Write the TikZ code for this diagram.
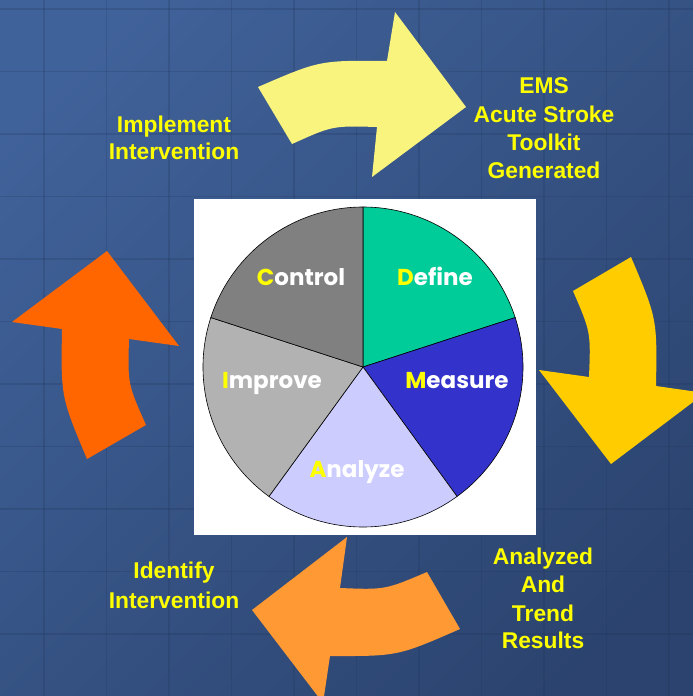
\documentclass[tikz,border=0pt]{standalone}
\usepackage{fontspec}
\setmainfont{Liberation Sans}
\newfontfamily\piefont{Poppins}
\definecolor{bgA}{HTML}{40629A}
\definecolor{bgM}{HTML}{375582}
\definecolor{bgB}{HTML}{2B436E}
\definecolor{gridc}{HTML}{1F3357}
\definecolor{ylw}{HTML}{FFFF00}
\definecolor{cDefine}{HTML}{00CC99}
\definecolor{cMeasure}{HTML}{3333CC}
\definecolor{cAnalyze}{HTML}{CCCCFF}
\definecolor{cImprove}{HTML}{B2B2B2}
\definecolor{cControl}{HTML}{808080}
\definecolor{arYellow}{HTML}{F9F47D}
\definecolor{arGold}{HTML}{FFCC00}
\definecolor{arRed}{HTML}{FF6600}
\definecolor{arOrange}{HTML}{FF9933}
\tikzset{
  gridline/.style={draw=gridc, line width=1.8pt, opacity=0.22},
  slice/.style={draw=black, line width=0.6pt},
  pielab/.style={font=\piefont\bfseries\fontsize{23}{28}\selectfont, text=white, inner sep=0pt, anchor=base},
  outlab/.style={font=\bfseries\fontsize{22.8}{28}\selectfont, text=ylw, inner sep=0pt, anchor=base},
}
\begin{document}
\begin{tikzpicture}[x=1pt,y=-1pt]
\useasboundingbox (0,0) rectangle (693,696);
\begin{scope}
\clip (0,0) rectangle (693,696);
% background
\shade[shading=axis, top color=bgA, middle color=bgM, bottom color=bgB, shading angle=45] (-50,-50) rectangle (743,746);
\foreach \gx in {44,106.5,169,231.5,294,356.5,419,481.5,544,606.5,669}
  \draw[gridline] (\gx,0) -- (\gx,696);
\foreach \gy in {9,71.5,134,196.5,259,321.5,384,446.5,509,571.5,634}
  \draw[gridline] (0,\gy) -- (693,\gy);

% white panel
\fill[white] (194,199) rectangle (536,535);

% pie
\begin{scope}[shift={(363,367)}, y=1pt]
  \filldraw[slice, fill=cDefine]  (0,0) -- (18:160) arc[start angle=18, end angle=90, radius=160] -- cycle;
  \filldraw[slice, fill=cMeasure] (0,0) -- (-54:160) arc[start angle=-54, end angle=18, radius=160] -- cycle;
  \filldraw[slice, fill=cAnalyze] (0,0) -- (-126:160) arc[start angle=-126, end angle=-54, radius=160] -- cycle;
  \filldraw[slice, fill=cImprove] (0,0) -- (162:160) arc[start angle=162, end angle=234, radius=160] -- cycle;
  \filldraw[slice, fill=cControl] (0,0) -- (90:160) arc[start angle=90, end angle=162, radius=160] -- cycle;
\end{scope}

\node[pielab] (lcontrol) at (301,285) {\textcolor{ylw}{C}ontrol};
\node[pielab] (ldefine)  at (435,285) {\textcolor{ylw}{D}efine};
\node[pielab] (limprove) at (272,388) {\textcolor{ylw}{I}mprove};
\node[pielab] (lmeasure) at (457,388) {\textcolor{ylw}{M}easure};
\node[pielab] (lanalyze) at (357,477) {\textcolor{ylw}{A}nalyze};

% arrows
\fill[arYellow] (258,87) .. controls (319.7,60.3) .. (387,61) -- (395,12) -- (466,107) -- (372,177) -- (377,127) .. controls (332.5,125.7) .. (292,144) -- cycle;
\fill[arGold] (573,291) -- (631,257) .. controls (657.2,318.8) .. (656,386) -- (705,393) -- (611,464) -- (539,370) -- (589,377) .. controls (590.8,332.2) .. (573,291) -- cycle;
\fill[arOrange] (427,572) -- (460,629) .. controls (397.8,656.2) .. (330,656) -- (323,703) -- (252,610) -- (347,537) -- (340,588) .. controls (385.3,589.8) .. (427,572) -- cycle;
\fill[arRed] (87,459) -- (146,425) .. controls (127.7,383.9) .. (129,339) -- (179,346) -- (107,251) -- (12,322) -- (62,329) .. controls (60.8,396.6) .. (87,459) -- cycle;

% outer labels
\node[outlab] (imp1) at (174,132) {Implement};
\node[outlab] (imp2) at (174,159) {Intervention};
\node[outlab] (ems1) at (544,93) {EMS};
\node[outlab] (ems2) at (544,122) {Acute Stroke};
\node[outlab] (ems3) at (544,150) {Toolkit};
\node[outlab] (ems4) at (544,178) {Generated};
\node[outlab] (ana1) at (543,564) {Analyzed};
\node[outlab] (ana2) at (543,592) {And};
\node[outlab] (ana3) at (543,621) {Trend};
\node[outlab] (ana4) at (543,648) {Results};
\node[outlab] (idf1) at (174,578) {Identify};
\node[outlab] (idf2) at (174,608) {Intervention};
\end{scope}
\end{tikzpicture}
\end{document}
